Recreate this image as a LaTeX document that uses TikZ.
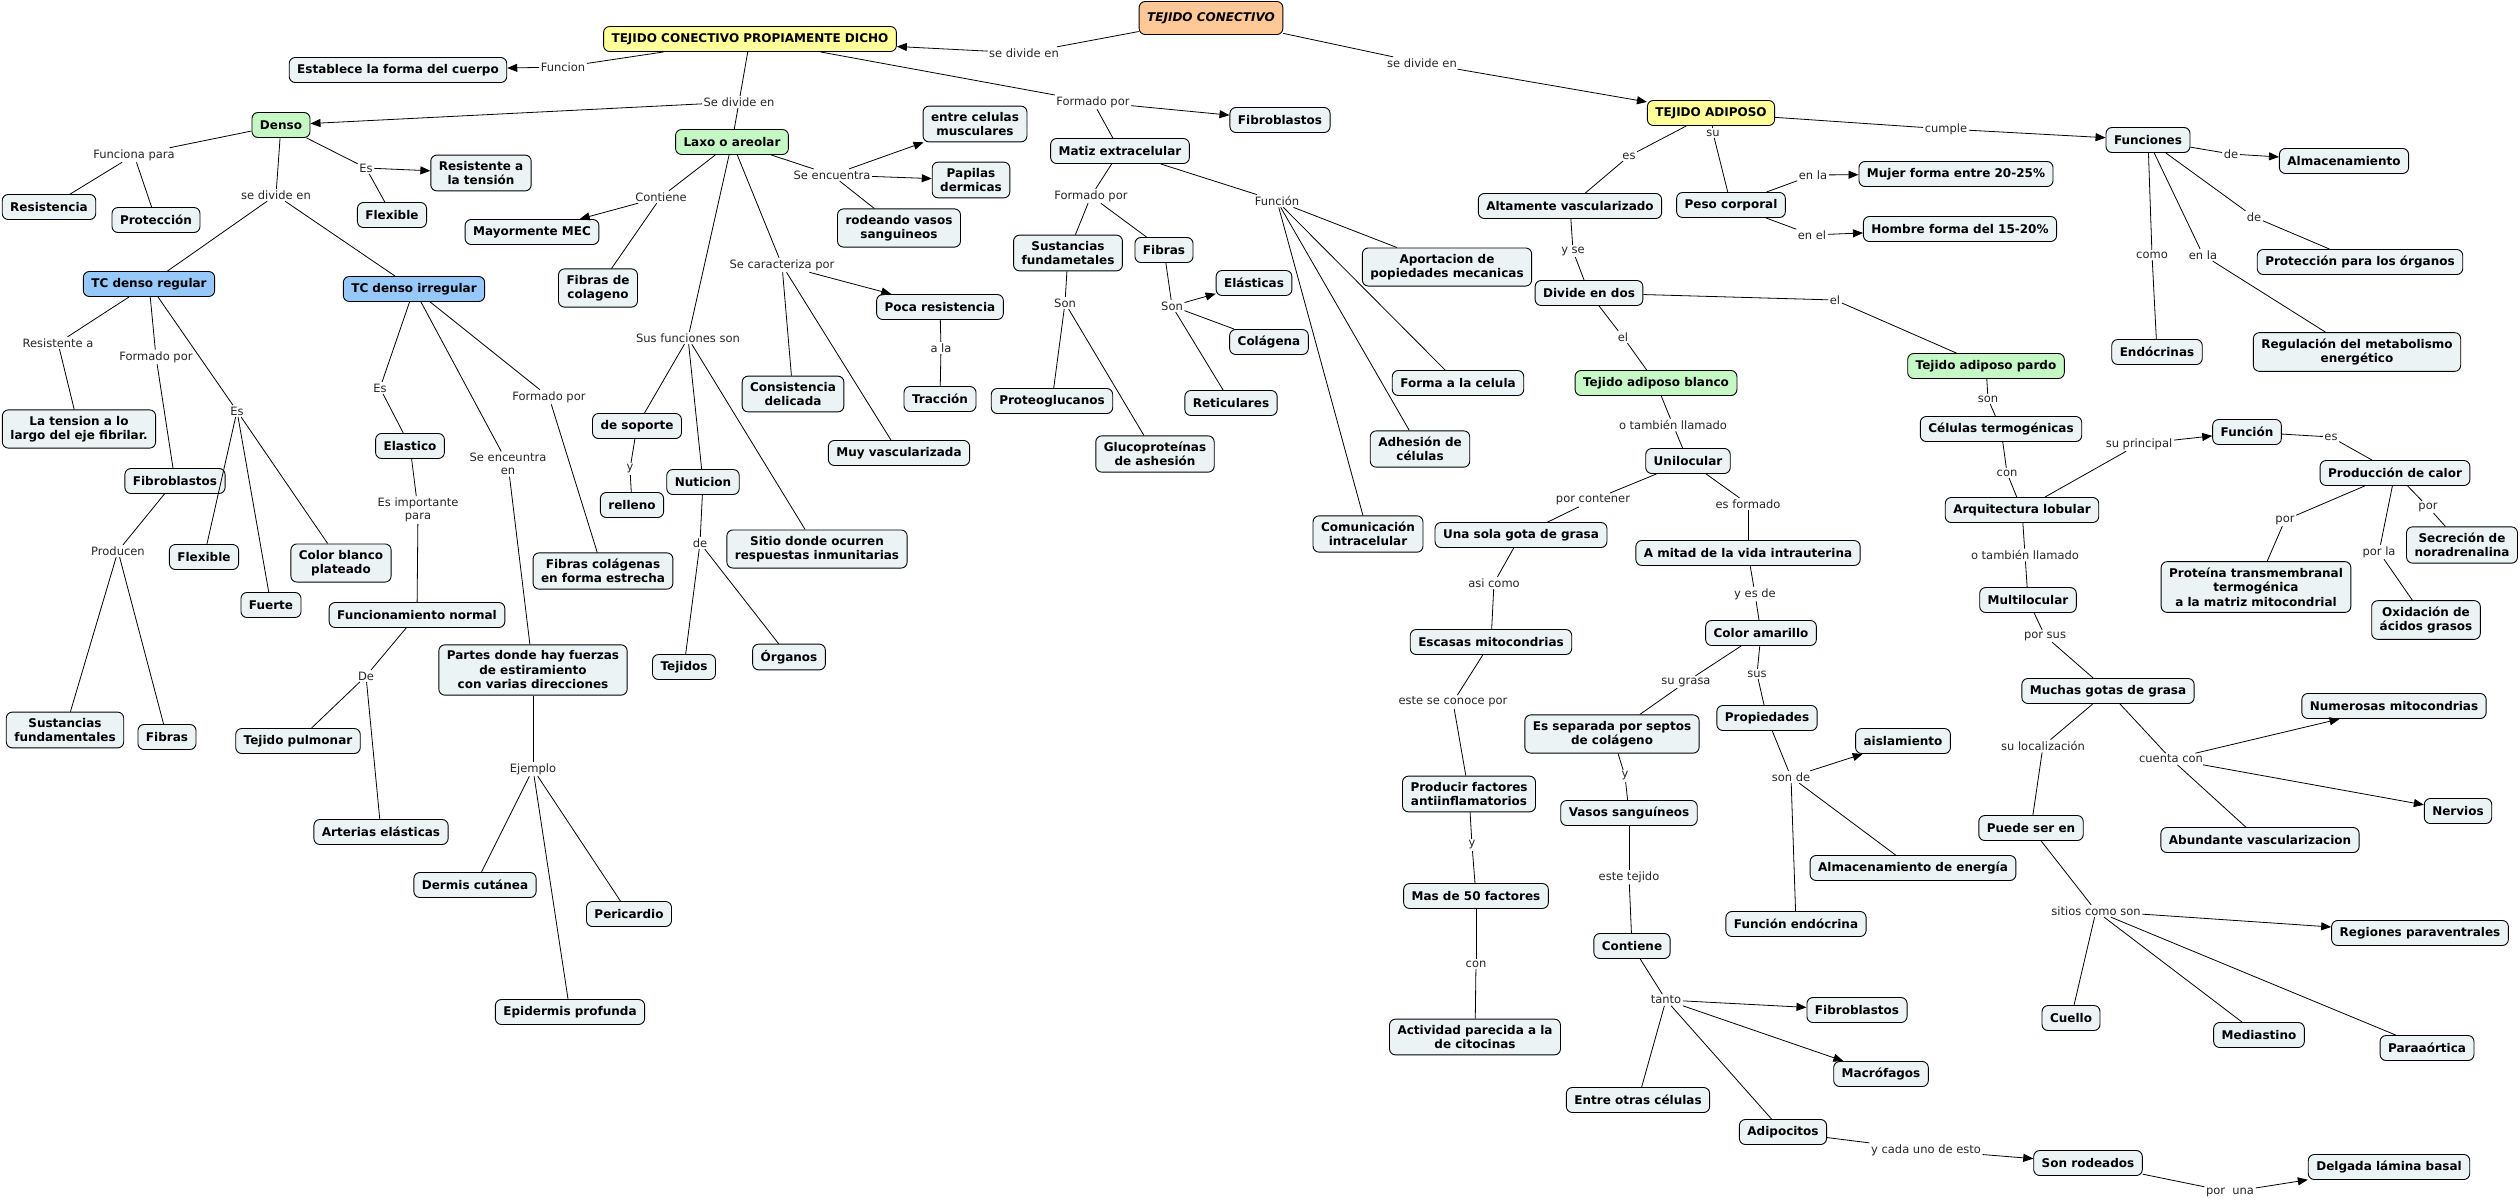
\documentclass[tikz,border=0pt]{standalone}
\usepackage{fontspec}
\setmainfont{DejaVu Sans}
\usetikzlibrary{arrows.meta}
\definecolor{nodefill}{RGB}{236,243,245}
\definecolor{orangefill}{RGB}{255,200,150}
\definecolor{yellowfill}{RGB}{255,255,153}
\definecolor{greenfill}{RGB}{198,248,198}
\definecolor{bluefill}{RGB}{150,200,250}
\newcommand\myln[2]{\draw[ln] (#1) -- (#2);}
\newcommand\myar[2]{\draw[ar] (#1) -- (#2);}
\begin{document}
\begin{tikzpicture}[x=1pt,y=-1pt,
 cn/.style={draw=black, line width=0.9pt, rounded corners=6pt, fill=nodefill, align=center,
   font=\fontsize{12}{14.5}\selectfont\bfseries, inner xsep=8pt, inner ysep=6pt, minimum height=25pt},
 yel/.style={cn, fill=yellowfill},
 grn/.style={cn, fill=greenfill},
 blu/.style={cn, fill=bluefill},
 org/.style={cn, fill=orangefill, font=\fontsize{12}{14.5}\selectfont\bfseries\itshape, minimum height=33pt},
 lb/.style={font=\fontsize{11.5}{13}\selectfont, inner sep=1.5pt, align=center, text=black!85},
 ln/.style={line width=0.8pt},
 ar/.style={ln, -{Triangle[length=10pt,width=8pt]}}]
\fill[white] (0,0) rectangle (2520,1203);
\useasboundingbox (0,0) rectangle (2520,1203);
% ---------- concept nodes ----------
\node[org] (root) at (1211,18) {TEJIDO CONECTIVO};
\node[yel] (tcpd) at (750,39) {TEJIDO CONECTIVO PROPIAMENTE DICHO};
\node[yel] (ta) at (1711,113) {TEJIDO ADIPOSO};
\node[cn] (est) at (398,70) {Establece la forma del cuerpo};
\node[grn] (denso) at (281,125) {Denso};
\node[grn] (laxo) at (732,142) {Laxo o areolar};
\node[cn] (fibtop) at (1280,120) {Fibroblastos};
\node[cn] (matiz) at (1120,151) {Matiz extracelular};
\node[cn] (resis) at (49,207) {Resistencia};
\node[cn] (prot) at (156,220) {Protección};
\node[cn] (restens) at (481,173) {Resistente a\\la tensión};
\node[cn] (flex1) at (392,215) {Flexible};
\node[blu] (tcreg) at (149,284) {TC denso regular};
\node[blu] (tcirr) at (414,289) {TC denso irregular};
\node[cn] (mayor) at (532,232) {Mayormente MEC};
\node[cn] (fibcol) at (598,288) {Fibras de\\colageno};
\node[cn] (entre) at (975,124) {entre celulas\\musculares};
\node[cn] (papilas) at (971,180) {Papilas\\dermicas};
\node[cn] (rodeando) at (899,228) {rodeando vasos\\sanguineos};
\node[cn] (poca) at (940,307) {Poca resistencia};
\node[cn] (traccion) at (940,399) {Tracción};
\node[cn] (consist) at (793,394) {Consistencia\\delicada};
\node[cn] (sustf) at (1068,253) {Sustancias\\fundametales};
\node[cn] (fibras) at (1164,250) {Fibras};
\node[cn] (elast) at (1254,283) {Elásticas};
\node[cn] (colag) at (1269,342) {Colágena};
\node[cn] (retic) at (1231,403) {Reticulares};
\node[cn] (proteo) at (1052,401) {Proteoglucanos};
\node[cn] (gluco) at (1155,454) {Glucoproteínas\\de ashesión};
\node[cn] (aport) at (1447,267) {Aportacion de\\popiedades mecanicas};
\node[cn] (forma) at (1458,383) {Forma a la celula};
\node[cn] (adhes) at (1420,449) {Adhesión de\\células};
\node[cn] (comun) at (1368,534) {Comunicación\\intracelular};
\node[cn] (altam) at (1570,206) {Altamente vascularizado};
\node[cn] (peso) at (1731,205) {Peso corporal};
\node[cn] (mujer) at (1956,174) {Mujer forma entre 20-25\%};
\node[cn] (hombre) at (1960,229) {Hombre forma del 15-20\%};
\node[cn] (divide) at (1589,293) {Divide en dos};
\node[grn] (blanco) at (1656,383) {Tejido adiposo blanco};
\node[grn] (pardo) at (1986,366) {Tejido adiposo pardo};
\node[cn] (funciones) at (2148,140) {Funciones};
\node[cn] (almac) at (2344,161) {Almacenamiento};
\node[cn] (protorg) at (2360,262) {Protección para los órganos};
\node[cn] (endoc) at (2157,352) {Endócrinas};
\node[cn] (regul) at (2357,352) {Regulación del metabolismo\\energético};
\node[cn] (tension) at (79,429) {La tension a lo\\largo del eje fibrilar.};
\node[cn] (fibreg) at (175,481) {Fibroblastos};
\node[cn] (flex2) at (204,557) {Flexible};
\node[cn] (fuerte) at (271,605) {Fuerte};
\node[cn] (colorb) at (341,563) {Color blanco\\plateado};
\node[cn] (sustreg) at (65,730) {Sustancias\\fundamentales};
\node[cn] (fibrasreg) at (167,737) {Fibras};
\node[cn] (elastico) at (410,446) {Elastico};
\node[cn] (funcnorm) at (417,615) {Funcionamiento normal};
\node[cn] (pulmonar) at (298,741) {Tejido pulmonar};
\node[cn] (arterias) at (381,832) {Arterias elásticas};
\node[cn] (partes) at (533,670) {Partes donde hay fuerzas\\de estiramiento\\con varias direcciones};
\node[cn] (dermis) at (475,885) {Dermis cutánea};
\node[cn] (pericardio) at (629,914) {Pericardio};
\node[cn] (epidermis) at (570,1012) {Epidermis profunda};
\node[cn] (fibcolest) at (603,571) {Fibras colágenas\\en forma estrecha};
\node[cn] (soporte) at (637,426) {de soporte};
\node[cn] (relleno) at (632,505) {relleno};
\node[cn] (nutricion) at (703,482) {Nuticion};
\node[cn] (tejidos) at (684,667) {Tejidos};
\node[cn] (organos) at (789,657) {Órganos};
\node[cn] (sitio) at (817,549) {Sitio donde ocurren\\respuestas inmunitarias};
\node[cn] (muyvasc) at (899,453) {Muy vascularizada};
\node[cn] (unilocular) at (1688,461) {Unilocular};
\node[cn] (unasola) at (1521,535) {Una sola gota de grasa};
\node[cn] (amitad) at (1748,553) {A mitad de la vida intrauterina};
\node[cn] (escasas) at (1491,642) {Escasas mitocondrias};
\node[cn] (producir) at (1469,794) {Producir factores\\antiinflamatorios};
\node[cn] (color) at (1761,633) {Color amarillo};
\node[cn] (separada) at (1612,734) {Es separada por septos\\de colágeno};
\node[cn] (propied) at (1767,718) {Propiedades};
\node[cn] (aislam) at (1903,741) {aislamiento};
\node[cn] (vasos) at (1629,813) {Vasos sanguíneos};
\node[cn] (masde) at (1476,896) {Mas de 50 factores};
\node[cn] (activ) at (1475,1037) {Actividad parecida a la\\de citocinas};
\node[cn] (contiene) at (1632,946) {Contiene};
\node[cn] (funcendo) at (1796,924) {Función endócrina};
\node[cn] (almacen) at (1913,868) {Almacenamiento de energía};
\node[cn] (fibbot) at (1857,1010) {Fibroblastos};
\node[cn] (macro) at (1881,1074) {Macrófagos};
\node[cn] (entreotras) at (1638,1100) {Entre otras células};
\node[cn] (adipo) at (1783,1132) {Adipocitos};
\node[cn] (sonrod) at (2088,1163) {Son rodeados};
\node[cn] (delgada) at (2389,1167) {Delgada lámina basal};
\node[cn] (celterm) at (2001,429) {Células termogénicas};
\node[cn] (arquit) at (2022,510) {Arquitectura lobular};
\node[cn] (funcion2) at (2247,432) {Función};
\node[cn] (prodcal) at (2395,473) {Producción de calor};
\node[cn] (proteina) at (2256,587) {Proteína transmembranal\\termogénica\\a la matriz mitocondrial};
\node[cn] (oxid) at (2426,620) {Oxidación de\\ácidos grasos};
\node[cn] (secrec) at (2462,545) {Secreción de\\noradrenalina};
\node[cn] (multi) at (2028,600) {Multilocular};
\node[cn] (muchas) at (2108,691) {Muchas gotas de grasa};
\node[cn] (numerosas) at (2394,706) {Numerosas mitocondrias};
\node[cn] (nervios) at (2458,811) {Nervios};
\node[cn] (puede) at (2031,828) {Puede ser en};
\node[cn] (abundante) at (2260,840) {Abundante vascularizacion};
\node[cn] (regiones) at (2420,933) {Regiones paraventrales};
\node[cn] (cuello) at (2071,1018) {Cuello};
\node[cn] (mediast) at (2259,1035) {Mediastino};
\node[cn] (paraa) at (2427,1048) {Paraaórtica};
% ---------- link labels ----------
\node[lb] (l1) at (1024,53) {se divide en};
\node[lb] (l2) at (1422,63) {se divide en};
\node[lb] (l3) at (563,67) {Funcion};
\node[lb] (l4) at (739,102) {Se divide en};
\node[lb] (l5) at (1093,102) {Formado por};
\node[lb] (l6) at (134,155) {Funciona para};
\node[lb] (l7) at (366,168) {Es};
\node[lb] (l8) at (276,195) {se divide en};
\node[lb] (l9) at (661,197) {Contiene};
\node[lb] (l10) at (832,175) {Se encuentra};
\node[lb] (l11) at (782,265) {Se caracteriza por};
\node[lb] (l12) at (941,348) {a la};
\node[lb] (l13) at (688,338) {Sus funciones son};
\node[lb] (l14) at (630,469) {y};
\node[lb] (l15) at (700,543) {de};
\node[lb] (l16) at (1091,196) {Formado por};
\node[lb] (l17) at (1065,303) {Son};
\node[lb] (l18) at (1172,306) {Son};
\node[lb] (l19) at (1277,201) {Función};
\node[lb] (l20) at (58,343) {Resistente a};
\node[lb] (l21) at (156,357) {Formado por};
\node[lb] (l22) at (237,411) {Es};
\node[lb] (l23) at (118,551) {Producen};
\node[lb] (l24) at (380,388) {Es};
\node[lb] (l25) at (418,510) {Es importante\\para};
\node[lb] (l26) at (366,676) {De};
\node[lb] (l27) at (508,464) {Se enceuntra\\en};
\node[lb] (l28) at (533,769) {Ejemplo};
\node[lb] (l29) at (549,397) {Formado por};
\node[lb] (l30) at (1629,156) {es};
\node[lb] (l31) at (1713,133) {su};
\node[lb] (l32) at (1946,129) {cumple};
\node[lb] (l33) at (1813,175) {en la};
\node[lb] (l34) at (1812,235) {en el};
\node[lb] (l35) at (1573,251) {y se};
\node[lb] (l36) at (1623,337) {el};
\node[lb] (l37) at (1835,300) {el};
\node[lb] (l38) at (2231,154) {de};
\node[lb] (l39) at (2254,217) {de};
\node[lb] (l40) at (2152,255) {como};
\node[lb] (l41) at (2203,255) {en la};
\node[lb] (l42) at (1673,425) {o también llamado};
\node[lb] (l43) at (1593,500) {por contener};
\node[lb] (l44) at (1748,504) {es formado};
\node[lb] (l45) at (1494,583) {asi como};
\node[lb] (l46) at (1453,702) {este se conoce por};
\node[lb] (l47) at (1472,845) {y};
\node[lb] (l48) at (1476,964) {con};
\node[lb] (l49) at (1755,594) {y es de};
\node[lb] (l50) at (1686,682) {su grasa};
\node[lb] (l51) at (1757,674) {sus};
\node[lb] (l52) at (1625,776) {y};
\node[lb] (l53) at (1791,777) {son de};
\node[lb] (l54) at (1629,877) {este tejido};
\node[lb] (l55) at (1666,1000) {tanto};
\node[lb] (l56) at (1926,1150) {y cada uno de esto};
\node[lb] (l57) at (2230,1192) {por\ \ una};
\node[lb] (l58) at (1988,399) {son};
\node[lb] (l59) at (2007,473) {con};
\node[lb] (l60) at (2139,444) {su principal};
\node[lb] (l61) at (2331,437) {es};
\node[lb] (l62) at (2285,520) {por};
\node[lb] (l63) at (2379,552) {por la};
\node[lb] (l64) at (2428,507) {por};
\node[lb] (l65) at (2025,555) {o también llamado};
\node[lb] (l66) at (2045,636) {por sus};
\node[lb] (l67) at (2043,746) {su localización};
\node[lb] (l68) at (2171,759) {cuenta con};
\node[lb] (l69) at (2096,911) {sitios como son};
% ---------- connectors ----------
\myln{root}{l1} \myar{l1}{tcpd}
\myln{root}{l2} \myar{l2}{ta}
\myln{tcpd}{l3} \myar{l3}{est}
\myln{tcpd}{l4} \myar{l4}{denso} \myln{l4}{laxo}
\myln{tcpd}{l5} \myar{l5}{fibtop} \myln{l5}{matiz}
\myln{denso}{l6} \myln{l6}{resis} \myln{l6}{prot}
\myln{denso}{l7} \myar{l7}{restens} \myln{l7}{flex1}
\myln{denso}{l8} \myln{l8}{tcreg} \myln{l8}{tcirr}
\myln{laxo}{l9} \myar{l9}{mayor} \myln{l9}{fibcol}
\myln{laxo}{l10} \myar{l10}{entre} \myar{l10}{papilas} \myln{l10}{rodeando}
\myln{laxo}{l11} \myar{l11}{poca} \myln{l11}{consist} \myln{l11}{muyvasc}
\myln{poca}{l12} \myln{l12}{traccion}
\myln{laxo}{l13} \myln{l13}{soporte} \myln{l13}{nutricion} \myln{l13}{sitio}
\myln{soporte}{l14} \myln{l14}{relleno}
\myln{nutricion}{l15} \myln{l15}{tejidos} \myln{l15}{organos}
\myln{matiz}{l16} \myln{l16}{sustf} \myln{l16}{fibras}
\myln{sustf}{l17} \myln{l17}{proteo} \myln{l17}{gluco}
\myln{fibras}{l18} \myar{l18}{elast} \myln{l18}{colag} \myln{l18}{retic}
\myln{matiz}{l19} \myln{l19}{aport} \myln{l19}{forma} \myln{l19}{adhes} \myln{l19}{comun}
\myln{tcreg}{l20} \myln{l20}{tension}
\myln{tcreg}{l21} \myln{l21}{fibreg}
\myln{tcreg}{l22} \myln{l22}{flex2} \myln{l22}{fuerte} \myln{l22}{colorb}
\myln{fibreg}{l23} \myln{l23}{sustreg} \myln{l23}{fibrasreg}
\myln{tcirr}{l24} \myln{l24}{elastico}
\myln{elastico}{l25} \myln{l25}{funcnorm}
\myln{funcnorm}{l26} \myln{l26}{pulmonar} \myln{l26}{arterias}
\myln{tcirr}{l27} \myln{l27}{partes}
\myln{partes}{l28} \myln{l28}{dermis} \myln{l28}{epidermis} \myln{l28}{pericardio}
\myln{tcirr}{l29} \myln{l29}{fibcolest}
\myln{ta}{l30} \myln{l30}{altam}
\myln{ta}{l31} \myln{l31}{peso}
\myln{ta}{l32} \myar{l32}{funciones}
\myln{peso}{l33} \myar{l33}{mujer}
\myln{peso}{l34} \myar{l34}{hombre}
\myln{altam}{l35} \myln{l35}{divide}
\myln{divide}{l36} \myln{l36}{blanco}
\myln{divide}{l37} \myln{l37}{pardo}
\myln{funciones}{l38} \myar{l38}{almac}
\myln{funciones}{l39} \myln{l39}{protorg}
\myln{funciones}{l40} \myln{l40}{endoc}
\myln{funciones}{l41} \myln{l41}{regul}
\myln{blanco}{l42} \myln{l42}{unilocular}
\myln{unilocular}{l43} \myln{l43}{unasola}
\myln{unilocular}{l44} \myln{l44}{amitad}
\myln{unasola}{l45} \myln{l45}{escasas}
\myln{escasas}{l46} \myln{l46}{producir}
\myln{producir}{l47} \myln{l47}{masde}
\myln{masde}{l48} \myln{l48}{activ}
\myln{amitad}{l49} \myln{l49}{color}
\myln{color}{l50} \myln{l50}{separada}
\myln{color}{l51} \myln{l51}{propied}
\myln{separada}{l52} \myln{l52}{vasos}
\myln{propied}{l53} \myar{l53}{aislam} \myln{l53}{funcendo} \myln{l53}{almacen}
\myln{vasos}{l54} \myln{l54}{contiene}
\myln{contiene}{l55} \myar{l55}{fibbot} \myar{l55}{macro} \myln{l55}{entreotras} \myln{l55}{adipo}
\myln{adipo}{l56} \myar{l56}{sonrod}
\myln{sonrod}{l57} \myar{l57}{delgada}
\myln{pardo}{l58} \myln{l58}{celterm}
\myln{celterm}{l59} \myln{l59}{arquit}
\myln{arquit}{l60} \myar{l60}{funcion2}
\myln{funcion2}{l61} \myln{l61}{prodcal}
\myln{prodcal}{l62} \myln{l62}{proteina}
\myln{prodcal}{l63} \myln{l63}{oxid}
\myln{prodcal}{l64} \myln{l64}{secrec}
\myln{arquit}{l65} \myln{l65}{multi}
\myln{multi}{l66} \myln{l66}{muchas}
\myln{muchas}{l67} \myln{l67}{puede}
\myln{muchas}{l68} \myar{l68}{numerosas} \myar{l68}{nervios} \myln{l68}{abundante}
\myln{puede}{l69} \myar{l69}{regiones} \myln{l69}{cuello} \myln{l69}{mediast} \myln{l69}{paraa}
\end{tikzpicture}
\end{document}
